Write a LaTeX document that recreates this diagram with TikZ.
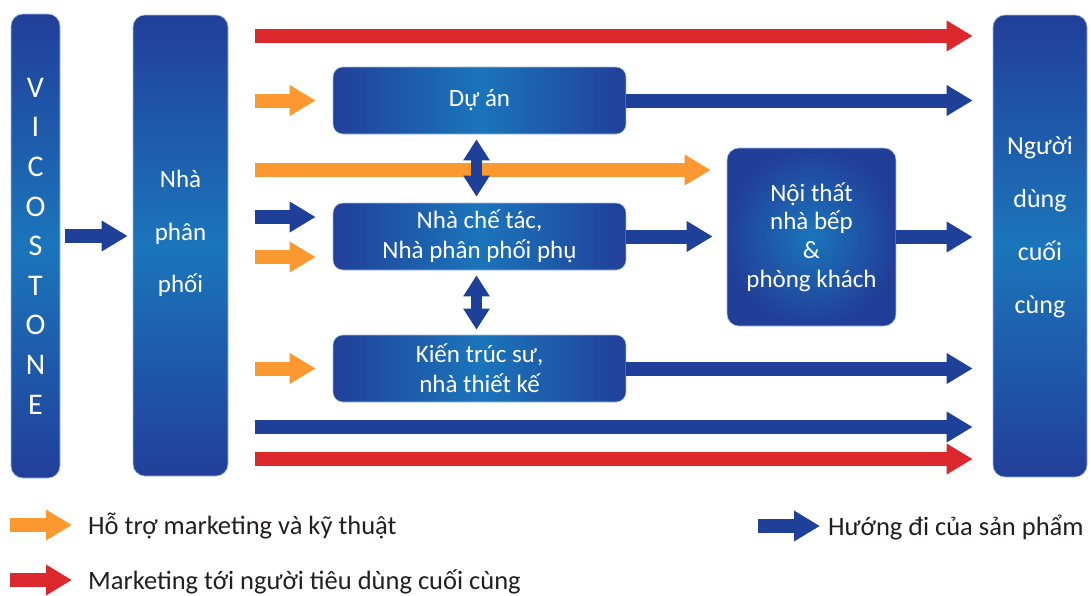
\documentclass[tikz,border=0pt]{standalone}
\usepackage{fontspec}
\setmainfont{Carlito}
\usetikzlibrary{arrows.meta,calc}
\definecolor{dblue}{RGB}{33,63,153}
\definecolor{lblue}{RGB}{27,117,187}
\definecolor{ablue}{RGB}{31,64,152}
\definecolor{aorange}{RGB}{251,152,47}
\definecolor{ared}{RGB}{218,40,45}
\definecolor{txt}{RGB}{35,31,32}
\definecolor{boxedge}{RGB}{160,185,225}
\begin{document}
\begin{tikzpicture}[x=1pt,y=-1pt,
  vbar/.style={draw=boxedge,line width=0.6pt,rounded corners=12pt,top color=dblue,bottom color=dblue,middle color=lblue,inner sep=0pt},
  hbox/.style={draw=boxedge,line width=0.6pt,rounded corners=10pt,left color=dblue,right color=dblue,middle color=lblue,text=white,inner sep=0pt,align=center,font=\fontsize{25}{30}\selectfont,minimum width=293pt,minimum height=67pt},
  vtext/.style={text=white,align=center,inner sep=0pt},
  arr/.style={line width=14pt,-{Triangle[length=26pt,width=29pt]}},
  dbl/.style={line width=11pt,ablue,{Triangle[length=21pt,width=25pt]}-{Triangle[length=21pt,width=25pt]}},
  legtext/.style={text=txt,inner sep=0pt,anchor=base west,font=\fontsize{26.5}{30}\selectfont}]
\useasboundingbox[fill=white] (0,0) rectangle (1091,595);

% big vertical bars
\node[vbar,minimum width=49pt,minimum height=464pt] (vic) at (35.5,246) {};
\node[vtext,font=\fontsize{30}{39.6}\selectfont] (victext) at (35.5,246) {V\\I\\C\\O\\S\\T\\O\\N\\E};
\node[vbar,minimum width=95pt,minimum height=461pt] (npp) at (180.5,245.5) {};
\node[vtext,font=\fontsize{25}{52.5}\selectfont] (npptext) at (180.5,233.5) {Nhà\\phân\\phối};
\node[vbar,minimum width=94pt,minimum height=462pt] (user) at (1040,246) {};
\node[vtext,font=\fontsize{26}{53}\selectfont] (usertext) at (1040,227) {Người\\dùng\\cuối\\cùng};

% boxes
\node[hbox] (duan) at (479.5,100.5) {Dự án};
\node[hbox] (nct) at (479.5,236.5) {Nhà chế tác,\\Nhà phân phối phụ};
\node[hbox] (kts) at (479.5,368.5) {Kiến trúc sư,\\nhà thiết kế};
\node[draw=boxedge,line width=0.6pt,rounded corners=12pt,shading=radial,inner color=lblue,outer color=dblue,text=white,inner sep=0pt,align=center,font=\fontsize{25}{28.7}\selectfont,minimum width=169pt,minimum height=178pt] (nt) at (811.5,237) {Nội thất\\nhà bếp\\\&\\phòng khách};

% level coordinates
\coordinate (L1) at (0,36);
\coordinate (L2) at (0,170);
\coordinate (L3) at (0,217);
\coordinate (L4) at (0,257);
\coordinate (L5) at (0,427);
\coordinate (L6) at (0,459);

% VICOSTONE -> NPP
\draw[arr,ablue] ($(vic.east)+(5,-10)$) coordinate (v1) -- ($(npp.west |- v1)+(-5,0)$);

% long arrows
\draw[arr,ared] ($(npp.east |- L1)+(27,0)$) -- ($(user.west |- L1)+(-20,0)$);
\draw[arr,aorange] ($(npp.east |- L2)+(27,0)$) -- ($(nt.west |- L2)+(-16,0)$);
\draw[arr,ablue] ($(npp.east |- L5)+(27,0)$) -- ($(user.west |- L5)+(-20,0)$);
\draw[arr,ared] ($(npp.east |- L6)+(27,0)$) -- ($(user.west |- L6)+(-20,0)$);

% short arrows into boxes
\draw[arr,aorange] ($(npp.east |- duan.west)+(27,0)$) -- ($(duan.west)+(-17,0)$);
\draw[arr,ablue] ($(npp.east |- L3)+(27,0)$) -- ($(nct.west |- L3)+(-17,0)$);
\draw[arr,aorange] ($(npp.east |- L4)+(27,0)$) -- ($(nct.west |- L4)+(-17,0)$);
\draw[arr,aorange] ($(npp.east |- kts.west)+(27,0)$) -- ($(kts.west)+(-17,0)$);

% box outputs
\draw[arr,ablue] (duan.east) -- ($(user.west |- duan.east)+(-20,0)$);
\draw[arr,ablue] (nct.east) -- ($(nt.west |- nct.east)+(-14,0)$);
\draw[arr,ablue] (nt.east) -- ($(user.west |- nt.east)+(-20,0)$);
\draw[arr,ablue] (kts.east) -- ($(user.west |- kts.east)+(-20,0)$);

% double arrows
\draw[dbl] ($(duan.south)+(-3,5)$) -- ($(nct.north)+(-3,-6)$);
\draw[dbl] ($(nct.south)+(-3,5)$) -- ($(kts.north)+(-3,-5)$);

% legend
\node[legtext] (lt1) at (88,534) {Hỗ trợ marketing và kỹ thuật};
\node[legtext] (lt2) at (88,589) {Marketing tới người tiêu dùng cuối cùng};
\node[legtext] (lt3) at (828,535) {Hướng đi của sản phẩm};
\coordinate (lg1) at (10,525);
\coordinate (lg2) at (10,580);
\coordinate (lg3) at (758,526);
\draw[arr,aorange] (lg1) -- ($(lg1 -| lt1.west)+(-16,0)$);
\draw[arr,ared] (lg2) -- ($(lg2 -| lt2.west)+(-16,0)$);
\draw[arr,ablue] (lg3) -- ($(lg3 -| lt3.west)+(-8,0)$);
\end{tikzpicture}
\end{document}
